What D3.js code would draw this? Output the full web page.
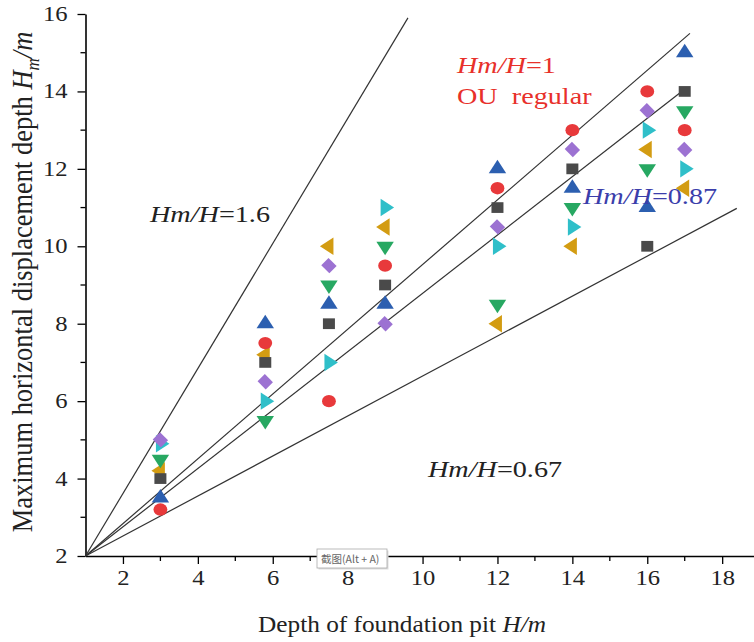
<!DOCTYPE html>
<html>
<head>
<meta charset="utf-8">
<script src="https://cdn.jsdelivr.net/npm/d3@7"></script>
<style>
  html, body { margin: 0; padding: 0; background: #fff; }
  svg { display: block; }
</style>
</head>
<body>
<svg id="chart" width="754" height="642"></svg>
<script>
// ---------- data ----------
const depths = [3, 5.8, 7.5, 9, 12, 14, 16, 17];
const seriesRed    = [3.2, 7.5, 6.0, 9.5, 11.5, 13.0, 14.0, 13.0];
const seriesBlue   = [3.5, 8.0, 8.5, 8.5, 12.0, 11.5, 11.0, 15.0];
const seriesSquare = [4.0, 7.0, 8.0, 9.0, 11.0, 12.0, 10.0, 14.0];
const seriesPurple = [5.0, 6.5, 9.5, 8.0, 10.5, 12.5, 13.5, 12.5];
const seriesCyan   = [4.9, 6.0, 7.0, 11.0, 10.0, 10.5, 13.0, 12.0];
const seriesGreen  = [4.5, 5.5, 9.0, 10.0, 8.5, 11.0, 12.0, 13.5];
const seriesGold   = [4.2, 7.2, 10.0, 10.5, 8.0, 10.0, 12.5, 11.5];

const xTicks = [2, 4, 6, 8, 10, 12, 14, 16, 18];
const yTicks = [2, 4, 6, 8, 10, 12, 14, 16];

// reference lines: start point and end point in data units
const refLines = [
  { label: "1.6",  x0: 1, y0: 2, x1: 9.61,  y1: 15.9 },
  { label: "1",    x0: 1, y0: 2, x1: 17.14, y1: 15.5 },
  { label: "0.87", x0: 1, y0: 2, x1: 16.92, y1: 14.0 },
  { label: "0.67", x0: 1, y0: 2, x1: 18.39, y1: 10.98 }
];

const series = [
  { values: seriesGold,   color: "#d39c12", shape: "left" },
  { values: seriesGreen,  color: "#27a862", shape: "down" },
  { values: seriesCyan,   color: "#2fbfc9", shape: "right" },
  { values: seriesPurple, color: "#9c72d2", shape: "diamond" },
  { values: seriesSquare, color: "#4a4a4a", shape: "square" },
  { values: seriesBlue,   color: "#2c5fb0", shape: "up" },
  { values: seriesRed,    color: "#e8393b", shape: "circle" }
];

// ---------- layout ----------
const svg = d3.select("#chart");
const SERIF = "'Liberation Serif', 'Times New Roman', serif";
const STRETCH = 1.2;

const x = d3.scaleLinear().domain([1, 18.85]).range([85.5, 754]);
const y = d3.scaleLinear().domain([2, 16]).range([556, 14]);

// axes
const xAxis = d3.axisBottom(x).tickValues(xTicks).tickSize(8).tickSizeOuter(0).tickFormat(d3.format("d"));
const yAxis = d3.axisLeft(y).tickValues(yTicks).tickSize(8).tickSizeOuter(0).tickFormat(d3.format("d"));

const gx = svg.append("g").attr("transform", `translate(0,${y(2)})`).call(xAxis);
const gy = svg.append("g").attr("transform", `translate(${x(1)},0)`).call(yAxis);

// minor ticks
const xMinor = d3.range(3, 19, 2);
const yMinor = d3.range(3, 16, 2);
gx.selectAll(".minor").data(xMinor).enter().append("line")
  .attr("x1", d => x(d)).attr("x2", d => x(d)).attr("y1", 0).attr("y2", 5)
  .attr("stroke", "#000").attr("stroke-width", 1.3);
gy.selectAll(".minor").data(yMinor).enter().append("line")
  .attr("y1", d => y(d)).attr("y2", d => y(d)).attr("x1", 0).attr("x2", -5)
  .attr("stroke", "#000").attr("stroke-width", 1.3);

[gx, gy].forEach(g => {
  g.select(".domain").attr("stroke", "#000").attr("stroke-width", 1.6);
  g.selectAll(".tick line").attr("stroke", "#000").attr("stroke-width", 1.3);
  g.selectAll(".tick text").attr("font-family", SERIF).attr("font-size", 20.5).attr("fill", "#222");
});
gx.selectAll(".tick text").attr("y", 14).attr("transform", `scale(${STRETCH},1)`);
gy.selectAll(".tick text").attr("x", -15).attr("transform", `scale(${STRETCH},1)`);

// reference lines
svg.append("g").selectAll("line").data(refLines).enter().append("line")
  .attr("x1", d => x(d.x0)).attr("y1", d => y(d.y0))
  .attr("x2", d => x(d.x1)).attr("y2", d => y(d.y1))
  .attr("stroke", "#333").attr("stroke-width", 1.2);

// markers
function markerPath(shape) {
  switch (shape) {
    case "circle":  return { d: d3.symbol(d3.symbolCircle, 120)(), rot: 0 };
    case "square":  return { d: d3.symbol(d3.symbolSquare, 115)(), rot: 0 };
    case "diamond": return { d: d3.symbol(d3.symbolSquare, 105)(), rot: 45 };
    case "up":      return { d: d3.symbol(d3.symbolTriangle, 105)(), rot: 0 };
    case "down":    return { d: d3.symbol(d3.symbolTriangle, 105)(), rot: 180 };
    case "left":    return { d: d3.symbol(d3.symbolTriangle, 105)(), rot: -90 };
    case "right":   return { d: d3.symbol(d3.symbolTriangle, 105)(), rot: 90 };
  }
}
const gm = svg.append("g");
series.forEach(s => {
  const m = markerPath(s.shape);
  gm.append("g").selectAll("path").data(s.values).enter().append("path")
    .attr("d", m.d)
    .attr("transform", (v, i) => `translate(${x(depths[i])},${y(v)}) rotate(${m.rot}) scale(1.12,1)`)
    .attr("fill", s.color);
});

// annotation text helper
function label(px, py, parts, size, color) {
  const t = svg.append("g").attr("transform", `translate(${px},${py}) scale(${STRETCH},1)`)
    .append("text").attr("font-family", SERIF).attr("font-size", size).attr("fill", color);
  parts.forEach(p => t.append("tspan").attr("font-style", p.i ? "italic" : "normal").text(p.t));
  return t;
}
label(150, 222, [{ t: "Hm/H", i: true }, { t: "=1.6" }], 23.5, "#222");
label(457, 73, [{ t: "Hm/H", i: true }, { t: "=1" }], 23.5, "#e8302a");
label(457, 104, [{ t: "OU\u00a0\u00a0regular" }], 23.5, "#e8302a");
label(583, 204, [{ t: "Hm/H", i: true }, { t: "=0.87" }], 23.5, "#3b3eab");
label(428, 477, [{ t: "Hm/H", i: true }, { t: "=0.67" }], 23.5, "#222");

// axis titles
const xt = svg.append("g").attr("transform", `translate(402,632) scale(1.1,1)`)
  .append("text").attr("text-anchor", "middle").attr("font-family", SERIF).attr("font-size", 23).attr("fill", "#222");
xt.append("tspan").text("Depth of foundation pit ");
xt.append("tspan").attr("font-style", "italic").text("H/m");

const yt = svg.append("g").attr("transform", `translate(32,282) rotate(-90) scale(1,1.1)`)
  .append("text").attr("text-anchor", "middle").attr("font-family", SERIF).attr("font-size", 26.5).attr("fill", "#222");
yt.append("tspan").text("Maximum horizontal displacement depth ");
yt.append("tspan").attr("font-style", "italic").text("H");
yt.append("tspan").attr("font-style", "italic").attr("font-size", 17).attr("dy", 6).text("m");
yt.append("tspan").attr("font-style", "italic").attr("dy", -6).text("/m");

// screenshot tooltip artifact
const tip = svg.append("g").attr("transform", "translate(317,549)");
tip.append("rect").attr("x", 1.5).attr("y", 1.5).attr("width", 70).attr("height", 19).attr("fill", "#ddd");
tip.append("rect").attr("width", 70).attr("height", 19).attr("fill", "#fff").attr("stroke", "#aaa").attr("stroke-width", 0.8);
tip.append("text").attr("x", 4).attr("y", 14).attr("font-family", "'Noto Sans CJK SC', sans-serif")
  .attr("font-size", 10.5).attr("fill", "#666").text("截图(Alt + A)");
</script>
</body>
</html>
